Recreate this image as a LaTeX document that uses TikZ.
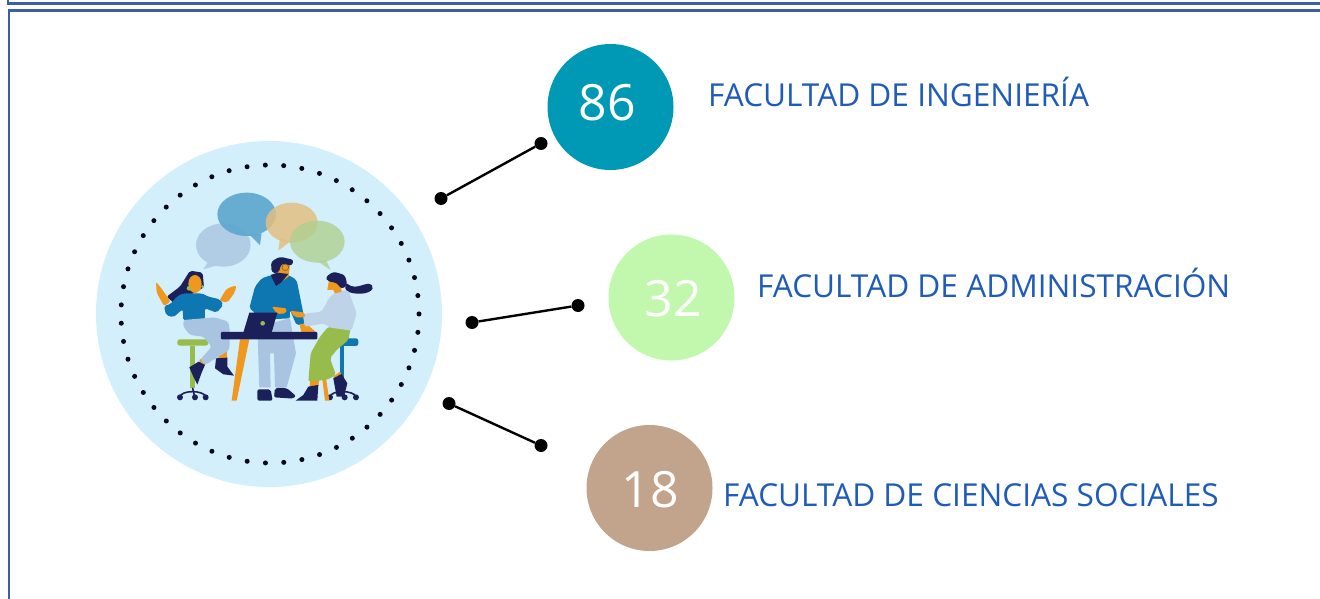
\documentclass[tikz,border=0pt]{standalone}
\usepackage{fontspec}
\setmainfont{Open Sans}
\definecolor{frameblue}{HTML}{3A5FA8}
\definecolor{labelblue}{HTML}{1F5BB8}
\definecolor{discblue}{HTML}{D2EFFB}
\definecolor{teal}{HTML}{0099B5}
\definecolor{mint}{HTML}{C2F7AE}
\definecolor{tan}{HTML}{C2A38B}
\definecolor{ink}{HTML}{1B1F5A}
\definecolor{skin}{HTML}{F0981E}
\definecolor{sweater}{HTML}{0E76B0}
\definecolor{pale}{HTML}{A9C4E0}
\definecolor{leaf}{HTML}{98BC4B}
\tikzset{
  framerule/.style={draw=frameblue,line width=2.4pt},
  stat/.style={circle,minimum size=126pt,inner sep=0pt},
  digits/.style={inner sep=0pt,text=white,font=\fontsize{50}{50}\selectfont},
  facultad/.style={anchor=base west,inner sep=0pt,text=labelblue,font=\fontsize{31.6}{34}\selectfont},
  pin/.style={circle,fill=black,minimum size=13pt,inner sep=0pt},
  link/.style={draw=black,line width=2.4pt},
  part/.style={rounded corners=2pt},
  wheelbase/.style={draw=ink,line width=1.6pt,line cap=round},
}
\begin{document}
\begin{tikzpicture}[x=1pt,y=-1pt]
\useasboundingbox (0,0) rectangle (1320,599);
% frames
\draw[framerule] (8,0) -- (8,3.5) -- (1320,3.5);
\draw[framerule] (9,599) -- (9,10.5) -- (1320,10.5);
% disc
\fill[discblue] (269,314) circle[radius=173];
\draw[black!80!ink,line width=5pt,line cap=round,dash pattern=on 0pt off 18.357pt] (270,314) circle[radius=149];
% stat circles
\node[stat,fill=teal] (a) at (610.5,107) {};
\node[stat,fill=mint] (b) at (671.5,297.5) {};
\node[stat,fill=tan] (c) at (649.5,488) {};
\node[digits] (da) at (607,103) {86};
\node[digits] (db) at (673,299) {32};
\node[digits] (dc) at (650,490) {18};
\node[facultad] (la) at (708,107) {FACULTAD DE INGENIERÍA};
\node[facultad] (lb) at (757,297) {FACULTAD DE ADMINISTRACIÓN};
\node[facultad] (lc) at (723,506) {FACULTAD DE CIENCIAS SOCIALES};
% connectors
\node[pin] (p1) at (441,198.5) {};
\node[pin] (q1) at (541,143.5) {};
\node[pin] (p2) at (472,322.5) {};
\node[pin] (q2) at (578,305.5) {};
\node[pin] (p3) at (449,403.5) {};
\node[pin] (q3) at (541,445.5) {};
\draw[link] (p1) -- (q1);
\draw[link] (p2) -- (q2);
\draw[link] (p3) -- (q3);
% illustration, in the coordinates of the crop
\begin{scope}[shift={(140,180)},x=0.3333pt,y=-0.3333pt]
% bubbles
\fill[fill=pale!80!discblue] (250,195) ellipse[x radius=82,y radius=65];
\fill[fill=pale!80!discblue] (205,245) -- (190,268) -- (235,255) -- cycle;
\fill[fill=sweater!60!discblue,opacity=.9] (320,103) ellipse[x radius=88,y radius=65];
\fill[fill=sweater!60!discblue,opacity=.9] (330,165) -- (360,195) -- (365,160) -- cycle;
\fill[fill=skin!55!discblue,opacity=.85] (455,128) ellipse[x radius=78,y radius=60];
\fill[fill=skin!55!discblue,opacity=.85] (420,175) -- (415,212) -- (450,185) -- cycle;
\fill[fill=leaf!60!discblue,opacity=.8] (532,185) ellipse[x radius=82,y radius=63];
\fill[fill=leaf!60!discblue,opacity=.8] (535,245) -- (572,270) -- (558,240) -- cycle;
% left stool
\fill[leaf,rounded corners=2.5pt] (112,478) rectangle (205,497);
\fill[leaf] (150,497) rectangle (165,625);
\draw[wheelbase] (120,650) .. controls (125,630) and (190,630) .. (197,650);
\draw[wheelbase] (158,625) -- (165,655);
\foreach \wx in {120,165,197}{\fill[ink] (\wx,652) circle[radius=9];}
% right stool
\fill[sweater,rounded corners=2.5pt] (595,475) rectangle (655,498);
\fill[sweater] (600,498) rectangle (612,625);
\draw[wheelbase] (570,650) .. controls (575,630) and (640,630) .. (648,650);
\draw[wheelbase] (608,625) -- (614,655);
\foreach \wx in {570,614,648}{\fill[ink] (\wx,652) circle[radius=9];}
% left woman
\fill[ink,part] (150,272) -- (188,278) -- (192,322) -- (150,345) -- (105,372) -- (80,350) -- (120,320) -- cycle;
\fill[skin] (165,312) ellipse[x radius=20,y radius=27];
\fill[leaf] (147,325) circle[radius=7];
\fill[leaf] (188,320) circle[radius=5];
\fill[skin,part] (48,306) -- (62,322) -- (92,365) -- (72,378) -- (50,338) -- cycle;
\fill[skin,part] (238,362) -- (260,326) -- (289,316) -- (285,336) -- (262,368) -- cycle;
\fill[sweater,part] (130,340) -- (185,340) -- (205,350) -- (240,358) -- (250,375) -- (230,398) -- (195,385) -- (195,422) -- (130,422) -- (128,388) -- (100,412) -- (78,405) -- (72,378) -- (92,372) -- (110,350) -- cycle;
\fill[skin] (178,540) -- (192,532) -- (198,552) -- (185,560) -- cycle;
\fill[skin] (235,512) -- (260,512) -- (262,536) -- (235,536) -- cycle;
\fill[pale,part] (130,420) -- (225,412) -- (265,425) -- (270,455) -- (268,510) -- (195,555) -- (180,540) -- (215,500) -- (190,470) -- (150,465) -- (130,440) -- cycle;
\fill[ink] (148,562) -- (176,545) -- (195,555) -- (185,578) -- (172,614) -- (160,590) -- cycle;
\fill[ink] (228,535) -- (262,533) -- (262,560) -- (282,587) -- (250,583) -- (225,565) -- cycle;
% table legs
\fill[skin] (300,478) -- (328,478) -- (290,662) -- (275,662) -- cycle;
\fill[skin] (545,580) -- (556,580) -- (568,662) -- (555,662) -- cycle;
% man
\fill[pale] (352,440) -- (450,415) -- (468,520) -- (440,622) -- (405,622) -- (402,520) -- (390,520) -- (392,622) -- (358,622) -- cycle;
\fill[ink,part] (352,628) -- (392,628) -- (398,662) -- (352,662) -- cycle;
\fill[ink,part] (405,624) -- (440,624) -- (468,648) -- (460,656) -- (402,652) -- cycle;
\fill[sweater,part] (395,285) -- (445,285) -- (470,300) -- (496,430) -- (470,436) -- (450,390) -- (450,415) -- (350,420) -- (345,398) -- (328,385) -- (345,320) -- (365,295) -- cycle;
\fill[skin] (412,250) -- (450,255) -- (446,290) -- (425,305) -- (412,285) -- cycle;
\fill[ink] (392,285) -- (412,278) -- (445,282) -- (425,306) -- (408,318) -- cycle;
\fill[ink,rounded corners=3pt] (395,278) -- (393,245) -- (420,230) -- (462,240) -- (455,258) -- (425,250) -- (415,280) -- cycle;
\draw[leaf!50!ink,line width=.6pt] (436,262) circle[radius=10];
\fill[skin,part] (395,380) -- (440,385) -- (438,400) -- (412,402) -- cycle;
\fill[skin,part] (478,432) -- (500,432) -- (530,458) -- (485,460) -- cycle;
% laptop and table top
\fill[ink] (328,398) -- (412,398) -- (395,458) -- (310,458) -- cycle;
\fill[leaf] (368,430) circle[radius=7];
\fill[ink,rounded corners=1pt] (243,456) rectangle (532,478);
% right woman
\fill[skin] (580,590) -- (600,575) -- (612,595) -- (590,610) -- cycle;
\fill[skin] (510,600) -- (538,596) -- (535,620) -- (510,620) -- cycle;
\fill[leaf,part] (565,440) -- (632,445) -- (625,480) -- (590,510) -- (570,535) -- (588,585) -- (560,600) -- (505,604) -- (512,520) -- (540,470) -- cycle;
\fill[ink] (505,620) -- (535,615) -- (532,662) -- (467,662) -- (490,645) -- cycle;
\fill[ink] (580,595) -- (605,582) -- (622,610) -- (612,650) -- (590,650) -- cycle;
\fill[ink,rounded corners=2pt] (618,308) .. controls (650,335) and (680,300) .. (700,320) .. controls (690,345) and (640,345) .. (615,330) -- cycle;
\fill[pale!75!white,part] (590,335) -- (625,330) -- (650,400) -- (635,452) -- (565,442) -- (555,430) -- (495,440) -- (488,402) -- (545,395) -- (570,350) -- cycle;
\fill[skin,part] (450,392) -- (495,398) -- (495,412) -- (465,412) -- cycle;
\fill[skin] (568,295) -- (600,300) -- (605,335) -- (585,340) -- (580,330) -- (562,330) -- cycle;
\fill[ink,rounded corners=3pt] (556,292) -- (580,275) -- (615,285) -- (622,315) -- (605,328) -- (590,308) -- (565,305) -- cycle;
\end{scope}
\end{tikzpicture}
\end{document}
